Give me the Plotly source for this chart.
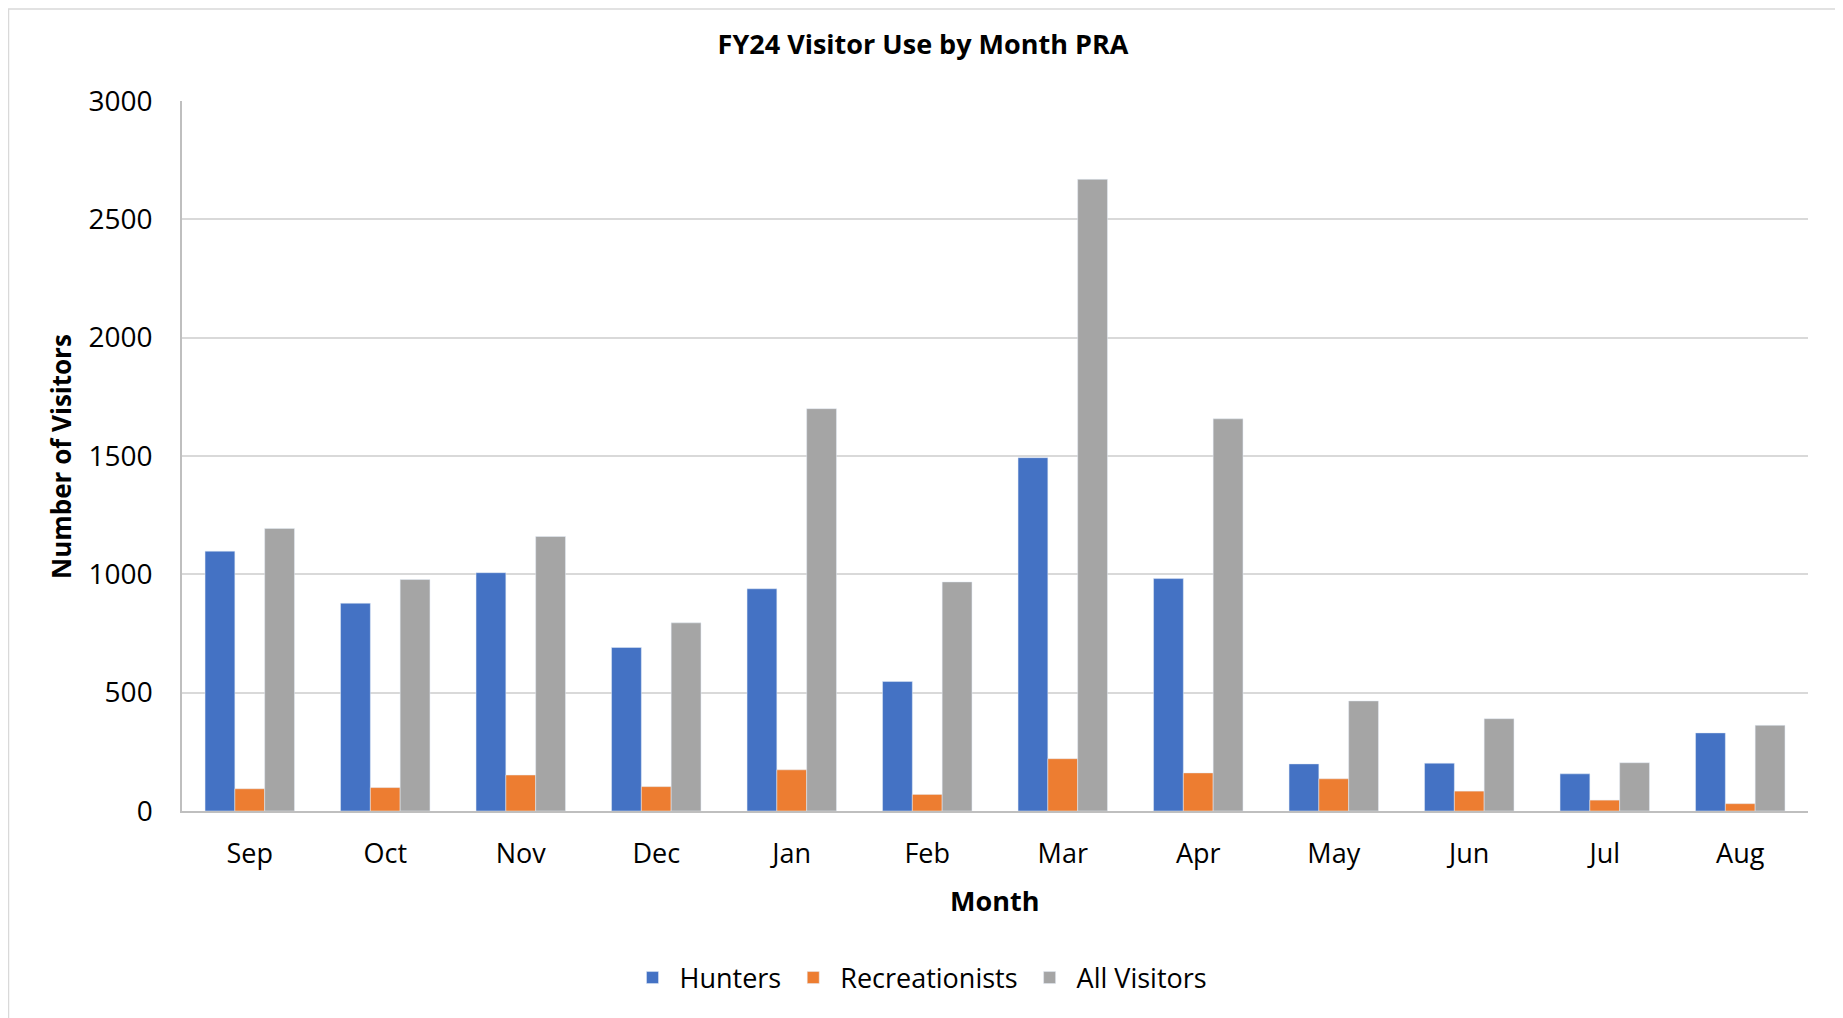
import plotly.graph_objects as go

months = ["Sep", "Oct", "Nov", "Dec", "Jan", "Feb", "Mar", "Apr", "May", "Jun", "Jul", "Aug"]
hunters = [1098, 878, 1007, 691, 939, 547, 1493, 982, 199, 202, 157, 330]
recreationists = [94, 99, 152, 103, 174, 70, 221, 161, 136, 84, 46, 31]
all_visitors = [1194, 978, 1160, 795, 1700, 968, 2669, 1657, 465, 390, 204, 362]
y_ticks = [0, 500, 1000, 1500, 2000, 2500, 3000]

# page is offset by the default 8px body margin
OFF = 8
PW, PH = 1843, 1018
W, H = PW - OFF, PH - OFF
# target plot area in page coordinates
PL, PR, PT, PB = 182, 1808, 101, 811
L, T = PL - OFF, PT - OFF
R = W - (PR - OFF)
B = H - (PB - OFF)
pw, ph = PR - PL, PB - PT


def px(x):
    return (x - PL) / pw


def py(y):
    return (PB - y) / ph


FONT = "Open Sans"

fig = go.Figure()
fig.add_trace(go.Bar(name="Hunters", x=months, y=hunters, marker=dict(color="#4472C4")))
fig.add_trace(go.Bar(name="Recreationists", x=months, y=recreationists, marker=dict(color="#ED7D31")))
fig.add_trace(go.Bar(name="All Visitors", x=months, y=all_visitors, marker=dict(color="#A5A5A5")))

fig.update_layout(
    width=W, height=H,
    margin=dict(l=L, r=R, t=T, b=B),
    paper_bgcolor="white", plot_bgcolor="white",
    barmode="group", bargap=0.34, bargroupgap=0,
    font=dict(family=FONT, color="#000000"),
    title=dict(text="<b>FY24 Visitor Use by Month PRA</b>", x=(923 - OFF) / W, y=1 - (45 - OFF) / H,
               xref="container", yref="container", xanchor="center", yanchor="middle",
               font=dict(size=27, family=FONT, color="#000000")),
    xaxis=dict(showgrid=False, showline=True, linecolor="#BFBFBF", linewidth=1.5,
               ticks="", tickfont=dict(size=27), ticklabelstandoff=18),
    yaxis=dict(range=[0, 3000], tickvals=y_ticks, showgrid=True, gridcolor="#D9D9D9", gridwidth=1.5,
               showline=True, linecolor="#BFBFBF", linewidth=1.5, zeroline=False,
               ticks="", tickfont=dict(size=28), ticklabelstandoff=22),
    legend=dict(orientation="h", x=px(919), y=py(978), xanchor="center", yanchor="middle",
                font=dict(size=27), traceorder="normal", itemwidth=44),
    showlegend=True,
)

fig.add_annotation(text="<b>Number of Visitors</b>", x=px(61), y=py(456), xref="paper", yref="paper",
                   textangle=-90, showarrow=False, xanchor="center", yanchor="middle",
                   font=dict(size=26, family=FONT))
fig.add_annotation(text="<b>Month</b>", x=px(994), y=py(900), xref="paper", yref="paper",
                   showarrow=False, xanchor="center", yanchor="middle",
                   font=dict(size=27, family=FONT))

fig.add_shape(type="rect", xref="paper", yref="paper",
              x0=px(OFF + 0.5), x1=px(1840), y0=py(1040), y1=py(OFF + 1),
              line=dict(color="#D9D9D9", width=1.5), fillcolor="rgba(0,0,0,0)", layer="below")

fig.write_html("out.html")
